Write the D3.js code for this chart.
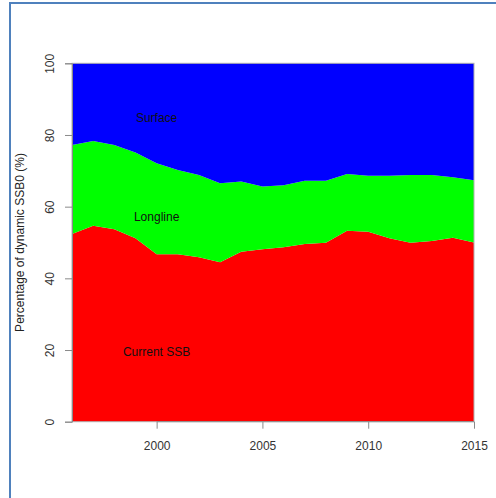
<!DOCTYPE html>
<html>
<head>
<meta charset="utf-8">
<script src="https://cdn.jsdelivr.net/npm/d3@7"></script>
<style>
  html, body { margin: 0; padding: 0; background: #fff; }
  svg { display: block; }
  text { font-family: "Liberation Sans", Arial, Helvetica, sans-serif; }
</style>
</head>
<body>
<script>
// Share of dynamic SSB0 by component, stacked
const years = [1996, 1997, 1998, 1999, 2000, 2001, 2002, 2003, 2004, 2005,
               2006, 2007, 2008, 2009, 2010, 2011, 2012, 2013, 2014, 2015];
const currentSSB = [52.4, 54.7, 53.7, 51.2, 46.7, 46.7, 45.9, 44.5, 47.4, 48.1,
                    48.7, 49.6, 49.9, 53.3, 53.0, 51.2, 49.9, 50.4, 51.3, 50.0];
const longline   = [24.8, 23.6, 23.5, 23.9, 25.4, 23.5, 22.9, 22.0, 19.6, 17.5,
                    17.3, 17.6, 17.3, 15.8, 15.6, 17.4, 18.9, 18.4, 16.9, 17.4];
const surface    = [22.8, 21.7, 22.8, 24.9, 27.9, 29.8, 31.2, 33.5, 33.0, 34.4,
                    34.0, 32.8, 32.8, 30.9, 31.4, 31.4, 31.2, 31.2, 31.8, 32.6];
const seriesKeys = ["Current SSB", "Longline", "Surface"];
const seriesColors = ["#ff0000", "#00ff00", "#0000ff"];
const xTicks = [2000, 2005, 2010, 2015];
const yTicks = [0, 20, 40, 60, 80, 100];
const yTitle = "Percentage of dynamic SSB0 (%)";

const W = 496, H = 498;
const margin = { left: 72, right: 22, top: 63.3, bottom: 76.3 };

const rows = years.map((yr, i) => ({
  year: yr,
  "Current SSB": currentSSB[i],
  "Longline": longline[i],
  "Surface": surface[i]
}));

const svg = d3.select("body").append("svg")
  .attr("width", W).attr("height", H);

// page frame
svg.append("line").attr("x1", 9.5).attr("x2", W).attr("y1", 3).attr("y2", 3)
  .attr("stroke", "#4f81bd").attr("stroke-width", 2);
svg.append("line").attr("x1", 10).attr("x2", 10).attr("y1", 2).attr("y2", H)
  .attr("stroke", "#4f81bd").attr("stroke-width", 2);

const x = d3.scaleLinear().domain([1996, 2015]).range([margin.left, W - margin.right]);
const y = d3.scaleLinear().domain([0, 100]).range([H - margin.bottom, margin.top]);

const stack = d3.stack().keys(seriesKeys);
const layers = stack(rows);

const area = d3.area()
  .x(d => x(d.data.year))
  .y0(d => y(d[0]))
  .y1(d => y(d[1]));

svg.append("g").selectAll("path")
  .data(layers)
  .join("path")
  .attr("d", area)
  .attr("fill", (d, i) => seriesColors[i]);

// plot box
svg.append("rect")
  .attr("x", x(1996)).attr("y", y(100))
  .attr("width", x(2015) - x(1996)).attr("height", y(0) - y(100))
  .attr("fill", "none").attr("stroke", "#b0b0b0").attr("stroke-width", 1);

// axes
const axisColor = "#8a8a8a";
const xAxis = svg.append("g")
  .attr("transform", `translate(0,${y(0)})`)
  .call(d3.axisBottom(x).tickValues(xTicks).tickFormat(d3.format("d")).tickSize(7).tickPadding(13));
const yAxis = svg.append("g")
  .attr("transform", `translate(${x(1996)},0)`)
  .call(d3.axisLeft(y).tickValues(yTicks).tickSize(7).tickPadding(0));

[xAxis, yAxis].forEach(g => {
  g.select(".domain").attr("stroke", axisColor);
  g.selectAll(".tick line").attr("stroke", axisColor);
  g.selectAll(".tick text").attr("fill", "#333").attr("font-size", 12)
    .style("font-family", "'Liberation Sans', Arial, sans-serif");
});
xAxis.select(".domain").remove();
xAxis.append("line")
  .attr("x1", x(xTicks[0])).attr("x2", x(xTicks[xTicks.length - 1]))
  .attr("stroke", axisColor);

// rotated y tick labels, as in base graphics
yAxis.selectAll(".tick text")
  .attr("x", 0).attr("dy", null)
  .attr("text-anchor", "middle")
  .attr("transform", "translate(-21,0) rotate(-90)")
  .attr("dominant-baseline", "middle");

svg.append("text")
  .attr("transform", `translate(21,${(y(0) + y(100)) / 2}) rotate(-90)`)
  .attr("text-anchor", "middle")
  .attr("dominant-baseline", "middle")
  .attr("font-size", 12)
  .attr("fill", "#222")
  .text(yTitle);

// series labels inside the areas
const labelX = 2000;
const labelRows = [
  { text: "Surface", v: 84.4 },
  { text: "Longline", v: 57 },
  { text: "Current SSB", v: 19.3 }
];
svg.append("g").selectAll("text")
  .data(labelRows)
  .join("text")
  .attr("x", x(labelX))
  .attr("y", d => y(d.v))
  .attr("text-anchor", "middle")
  .attr("dominant-baseline", "middle")
  .attr("font-size", 12)
  .attr("fill", "#111")
  .text(d => d.text);
</script>
</body>
</html>
